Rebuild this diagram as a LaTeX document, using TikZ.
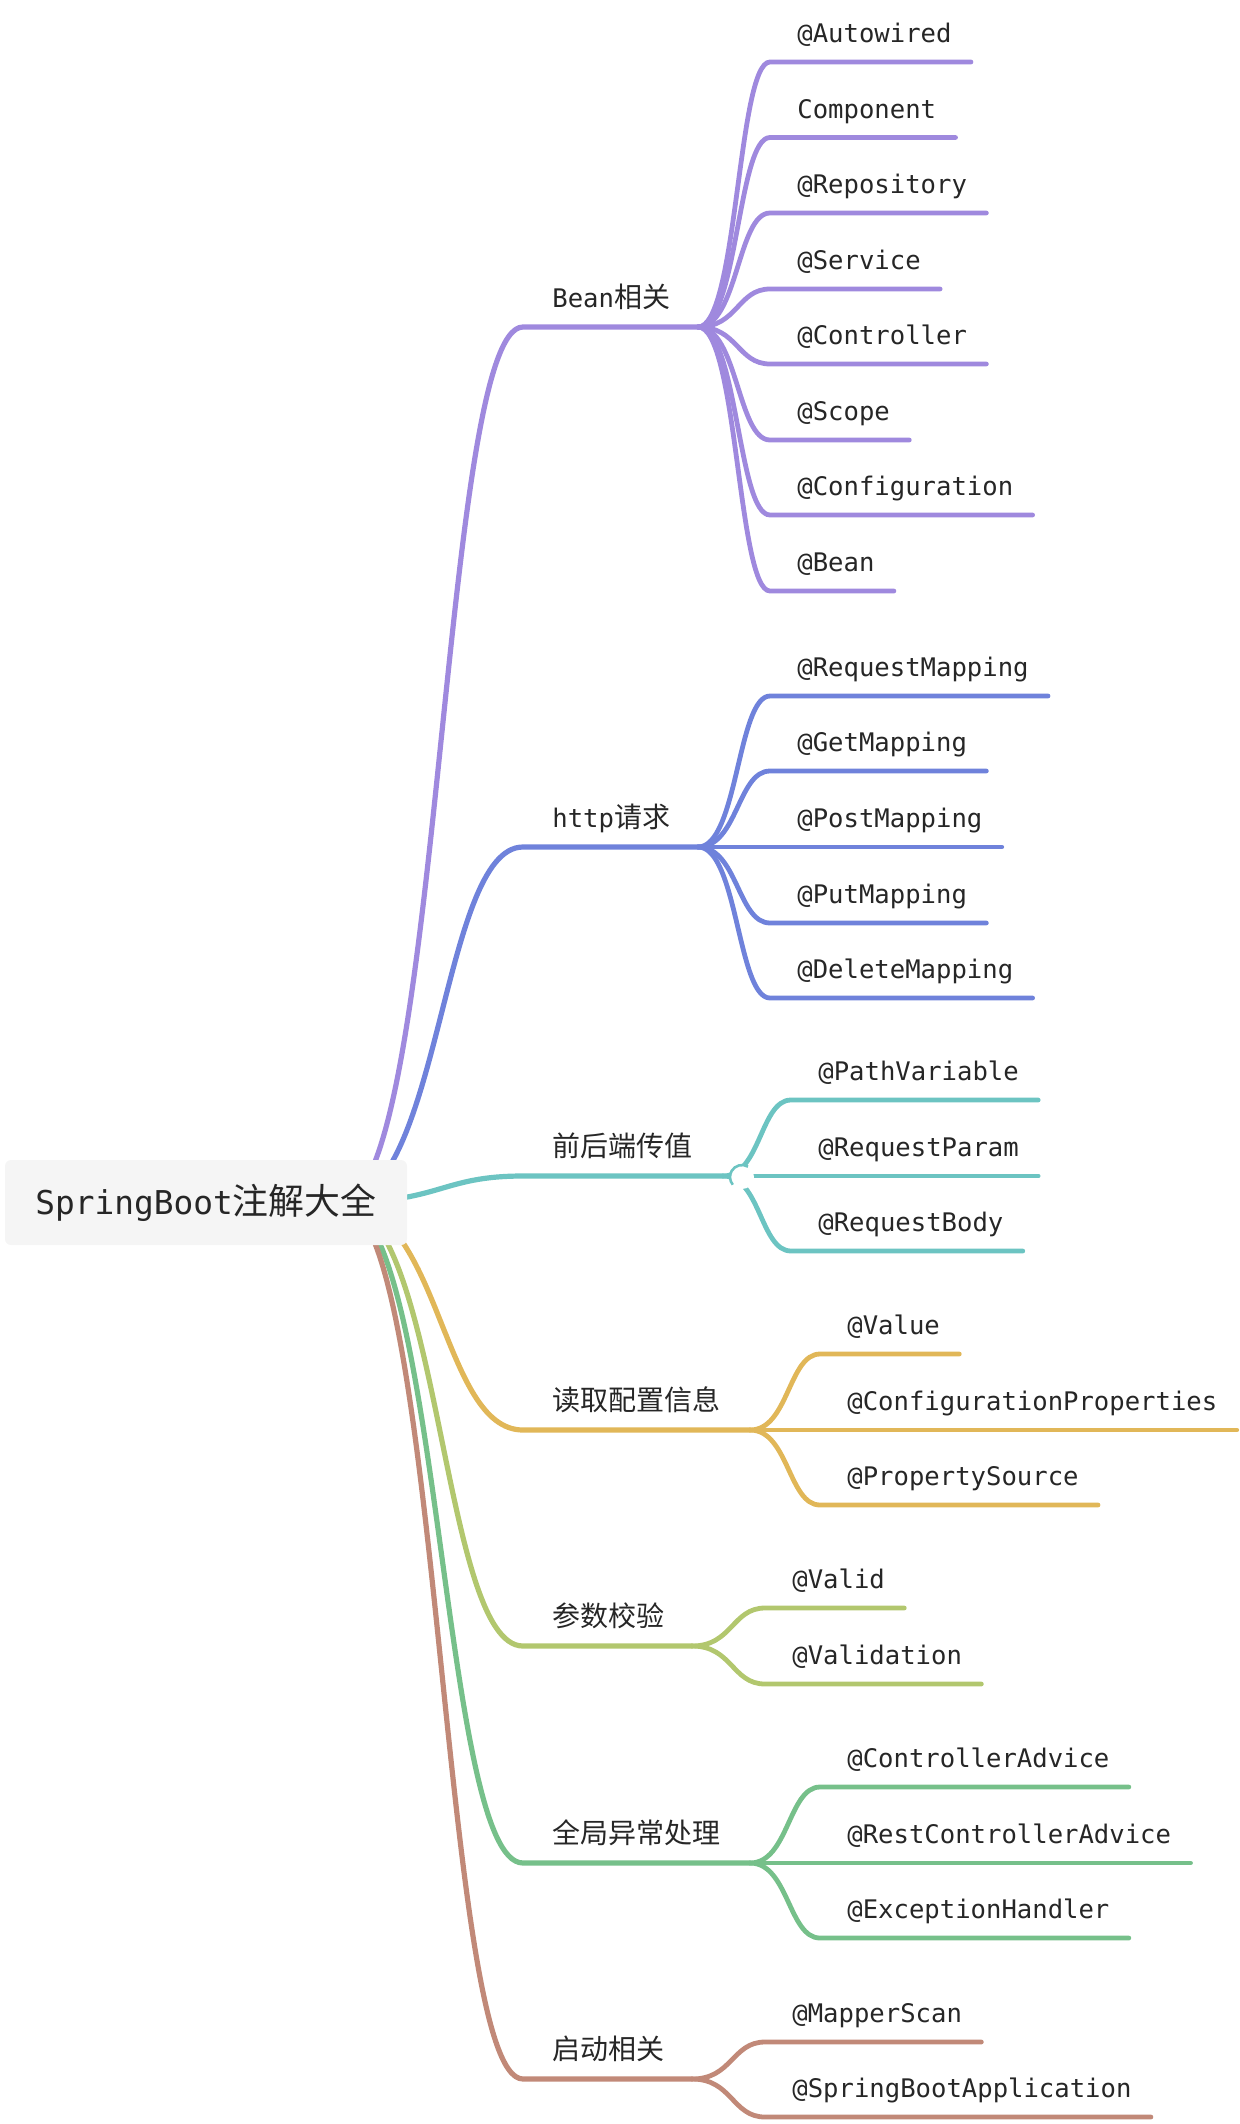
\documentclass[tikz,border=0pt]{standalone}
\usepackage{fontspec}
\setmainfont{DejaVu Sans Mono}
\newfontfamily\cjk[Scale=1.094]{Noto Sans CJK SC}
\usetikzlibrary{calc,backgrounds}
\definecolor{ink}{HTML}{262626}
\definecolor{rootbg}{HTML}{F5F5F5}
\definecolor{beanc}{HTML}{9F89DE}
\definecolor{httpc}{HTML}{6F82DB}
\definecolor{passc}{HTML}{6CC4C2}
\definecolor{confc}{HTML}{E1B758}
\definecolor{checkc}{HTML}{B2C76E}
\definecolor{errc}{HTML}{76C08A}
\definecolor{bootc}{HTML}{C18978}

\begin{document}
\begin{tikzpicture}[x=0.5pt,y=-0.5pt]
\tikzset{tag/.style={anchor=south west,inner sep=0pt,text depth=9.5pt,text=ink,font=\fontsize{12.8}{15}\selectfont},
  twig/.style={line width=2.4pt,line cap=round},
  curvy/.style={to path={let \p1=(\tikztostart),\p2=(\tikztotarget) in .. controls ({\x1+0.55*(\x2-\x1)},\y1) and ({\x2-0.45*(\x2-\x1)},\y2) .. (\p2)}}}
\useasboundingbox (0,0) rectangle (1240,2124);
\node[fill=rootbg,rounded corners=3pt,minimum width=201pt,minimum height=42.5pt,text=ink,font=\fontsize{16.4}{20}\selectfont] (root) at (206,1202.5) {SpringBoot{\cjk 注解大全}};
\coordinate (root-out) at ([xshift=-33.5pt]root.east);
% main branches
\foreach \nm/\yy/\hx/\cl/\tx in {bean/327/698/beanc/Bean{\cjk 相关}, http/847/698/httpc/http{\cjk 请求}, pass/1176/723/passc/{\cjk 前后端传值}, conf/1430/750/confc/{\cjk 读取配置信息}, check/1646/692/checkc/{\cjk 参数校验}, err/1863/750/errc/{\cjk 全局异常处理}, boot/2079/692/bootc/{\cjk 启动相关}}{
  \node[tag] (\nm) at (552,\yy) {\tx};
  \coordinate (\nm-in) at (523,\yy);
  \coordinate (\nm-hub) at (\hx,\yy);
  \begin{scope}[on background layer]
    \draw[twig,draw=\cl,line width=2.6pt] (root-out) to[curvy] (\nm-in) -- (\nm-hub);
  \end{scope}
}
% Bean
\foreach \nm/\yy/\tx in {autowired/62/@Autowired, component/137.5/Component, repository/213/@Repository, service/289/@Service, controller/364/@Controller, scope/440/@Scope, configuration/515/@Configuration, beanat/591/@Bean}{
  \coordinate (\nm-in) at (770,\yy);
  \node[tag] (\nm) at (797,\yy) {\tx};
  \draw[twig,draw=beanc] (bean-hub) to[curvy] (\nm-in) -- ([xshift=9.5pt]\nm.south east);
}
% http
\foreach \nm/\yy/\tx in {requestmapping/696/@RequestMapping, getmapping/771/@GetMapping, postmapping/847/@PostMapping, putmapping/923/@PutMapping, deletemapping/998/@DeleteMapping}{
  \coordinate (\nm-in) at (770,\yy);
  \node[tag] (\nm) at (797,\yy) {\tx};
  \draw[twig,draw=httpc] (http-hub) to[curvy] (\nm-in) -- ([xshift=9.5pt]\nm.south east);
}
% front/back values
\foreach \nm/\yy/\tx in {pathvariable/1100/@PathVariable, requestparam/1176/@RequestParam, requestbody/1251/@RequestBody}{
  \coordinate (\nm-in) at (791,\yy);
  \node[tag] (\nm) at (818,\yy) {\tx};
  \draw[twig,draw=passc] (pass-hub) to[curvy] (\nm-in) -- ([xshift=9.5pt]\nm.south east);
}
\fill[white] (742,1177) circle (12);
\draw[passc,line width=1.3pt] (742,1177) ++(-60:12) arc[start angle=-60,end angle=-220,radius=12];
% config
\foreach \nm/\yy/\tx in {value/1354/@Value, configprops/1430/@ConfigurationProperties, propertysource/1505/@PropertySource}{
  \coordinate (\nm-in) at (820,\yy);
  \node[tag] (\nm) at (847,\yy) {\tx};
  \draw[twig,draw=confc] (conf-hub) to[curvy] (\nm-in) -- ([xshift=9.5pt]\nm.south east);
}
% validation
\foreach \nm/\yy/\tx in {valid/1608/@Valid, validation/1684/@Validation}{
  \coordinate (\nm-in) at (765,\yy);
  \node[tag] (\nm) at (792,\yy) {\tx};
  \draw[twig,draw=checkc] (check-hub) to[curvy] (\nm-in) -- ([xshift=9.5pt]\nm.south east);
}
% exceptions
\foreach \nm/\yy/\tx in {controlleradvice/1787/@ControllerAdvice, restadvice/1863/@RestControllerAdvice, exceptionhandler/1938/@ExceptionHandler}{
  \coordinate (\nm-in) at (820,\yy);
  \node[tag] (\nm) at (847,\yy) {\tx};
  \draw[twig,draw=errc] (err-hub) to[curvy] (\nm-in) -- ([xshift=9.5pt]\nm.south east);
}
% startup
\foreach \nm/\yy/\tx in {mapperscan/2042/@MapperScan, springbootapp/2117/@SpringBootApplication}{
  \coordinate (\nm-in) at (765,\yy);
  \node[tag] (\nm) at (792,\yy) {\tx};
  \draw[twig,draw=bootc] (boot-hub) to[curvy] (\nm-in) -- ([xshift=9.5pt]\nm.south east);
}
\end{tikzpicture}
\end{document}
